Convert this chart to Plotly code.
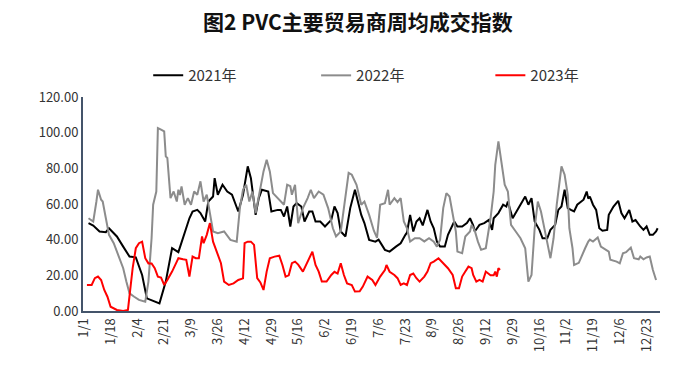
import plotly.graph_objects as go

# x positions are day-of-year indices (0 = 1/1, leap-year calendar, 366 categories)
tick_labels = ["1/1", "1/18", "2/4", "2/21", "3/9", "3/26", "4/12", "4/29", "5/16", "6/2", "6/19",
               "7/6", "7/23", "8/9", "8/26", "9/12", "9/29", "10/16", "11/2", "11/19", "12/6", "12/23"]
tick_days = [i * 17 for i in range(len(tick_labels))]

days_2021 = [3, 6, 10, 14, 16, 21, 25, 29, 33, 37, 40, 48, 52, 56, 60, 64, 67, 69, 72, 74, 77, 79, 82, 83,
             85, 88, 91, 94, 98, 101, 104, 106, 109, 111, 113, 117, 119, 123, 125, 127, 129, 131, 133, 135,
             138, 140, 143, 145, 147, 150, 153, 157, 159, 161, 163, 166, 169, 172, 176, 178, 181, 185, 187,
             191, 194, 198, 201, 204, 205, 207, 209, 211, 213, 215, 218, 220, 222, 224, 226, 229, 231, 235,
             237, 240, 243, 245, 247, 248, 251, 254, 257, 259, 260, 263, 266, 268, 269, 272, 276, 280, 282,
             284, 286, 289, 291, 294, 296, 299, 301, 303, 305, 307, 309, 311, 313, 317, 319, 320, 321, 323,
             325, 327, 329, 332, 333, 336, 339, 341, 343, 346, 348, 350, 353, 355, 357, 359, 361, 363, 364]
vals_2021 = [49.3, 47.9, 44.6, 44.2, 46.4, 41.8, 36.1, 30.5, 30.1, 20.2, 7.1, 4.3, 16.5, 35.2, 33.0, 44.6,
             52.0, 55.8, 56.7, 54.9, 50.2, 61.4, 64.2, 74.5, 65.2, 70.8, 67.0, 65.2, 55.8, 65.2, 81.1, 74.5,
             53.9, 63.3, 68.0, 67.0, 55.8, 56.7, 56.7, 53.0, 58.6, 47.4, 58.6, 60.5, 58.6, 50.2, 55.8, 55.8,
             50.2, 50.2, 47.4, 51.1, 58.6, 54.9, 44.6, 41.8, 57.7, 68.0, 53.9, 49.3, 39.9, 38.9, 40.0, 34.3,
             33.3, 36.1, 38.0, 42.7, 44.0, 53.9, 44.6, 50.2, 52.0, 48.0, 56.7, 50.2, 46.4, 38.9, 36.1, 36.1,
             42.7, 50.2, 47.4, 47.4, 49.3, 52.0, 48.0, 44.6, 48.3, 49.3, 51.1, 45.5, 52.0, 54.9, 59.6, 58.6,
             61.4, 52.0, 57.7, 64.2, 59.6, 63.3, 50.2, 45.5, 40.8, 40.8, 45.5, 48.3, 56.7, 58.6, 68.0, 57.7,
             56.7, 55.8, 59.6, 62.4, 67.0, 63.0, 64.2, 59.6, 56.7, 46.4, 45.0, 45.5, 53.9, 58.6, 61.8, 54.9,
             52.0, 56.7, 50.2, 51.0, 47.4, 45.5, 47.4, 42.7, 42.7, 44.6, 46.4]

days_2022 = [3, 6, 8, 9, 11, 12, 14, 16, 19, 21, 23, 25, 27, 29, 32, 35, 39, 41, 43, 44, 46, 47, 49, 51, 52,
             53, 55, 57, 59, 60, 61, 62, 64, 66, 68, 70, 72, 74, 76, 78, 80, 82, 85, 89, 93, 97, 99, 101, 103,
             105, 107, 109, 111, 114, 116, 118, 120, 122, 125, 127, 129, 131, 132, 134, 136, 139, 142, 144,
             146, 149, 152, 155, 158, 160, 163, 166, 168, 170, 173, 176, 178, 181, 184, 186, 188, 191, 193,
             194, 197, 199, 201, 203, 205, 207, 210, 213, 216, 219, 222, 224, 226, 228, 230, 232, 234, 236,
             237, 240, 242, 245, 246, 248, 250, 252, 255, 258, 260, 261, 263, 265, 267, 269, 271, 274, 277,
             280, 282, 284, 286, 288, 290, 293, 296, 298, 300, 303, 305, 307, 308, 310, 311, 314, 316, 318,
             320, 321, 323, 326, 328, 330, 333, 334, 338, 340, 342, 344, 347, 349, 352, 353, 355, 357, 359,
             361, 363]
vals_2022 = [52.0, 50.2, 61.4, 68.0, 62.4, 61.4, 52.0, 42.7, 38.0, 33.3, 29.6, 24.0, 16.5, 9.9, 8.0, 6.2,
             5.2, 16.5, 40.8, 59.6, 67.0, 102.6, 101.7, 100.7, 86.7, 85.8, 63.3, 67.0, 61.4, 68.0, 65.0, 69.9,
             59.6, 63.3, 59.6, 67.0, 65.2, 72.7, 61.4, 65.2, 54.9, 44.6, 43.6, 44.6, 39.9, 38.9, 57.7, 68.0,
             70.8, 61.4, 67.0, 54.9, 64.2, 78.3, 84.8, 78.3, 66.1, 64.2, 61.4, 59.6, 70.8, 70.0, 65.2, 70.8,
             49.3, 57.7, 63.3, 68.0, 63.3, 67.0, 65.2, 57.7, 46.4, 41.8, 44.6, 65.2, 77.4, 76.4, 70.8, 59.6,
             61.4, 53.9, 45.0, 41.0, 59.6, 60.5, 68.0, 59.6, 63.3, 61.0, 63.3, 50.2, 46.4, 38.9, 40.8, 40.8,
             39.0, 40.8, 38.9, 36.1, 40.0, 57.7, 66.1, 64.2, 53.9, 44.6, 33.3, 32.4, 41.8, 44.6, 48.3, 45.0,
             38.9, 34.3, 35.2, 52.0, 67.0, 82.0, 95.1, 82.0, 70.8, 67.0, 48.3, 44.6, 40.8, 35.2, 16.5, 20.2,
             46.4, 61.4, 55.8, 42.7, 29.6, 40.8, 59.6, 81.1, 76.4, 65.2, 46.4, 35.2, 25.8, 27.0, 31.5, 35.2,
             38.9, 40.0, 38.9, 41.2, 36.1, 35.0, 33.3, 28.7, 27.7, 26.7, 32.4, 33.0, 35.6, 29.6, 29.0, 30.5,
             29.0, 30.0, 30.5, 23.0, 17.4]

days_2023 = [2, 5, 7, 9, 11, 13, 15, 17, 21, 25, 28, 31, 33, 35, 37, 39, 41, 43, 45, 47, 49, 51, 53, 56, 59,
             60, 63, 65, 67, 69, 71, 73, 75, 76, 78, 80, 82, 85, 87, 89, 92, 95, 98, 101, 102, 104, 106, 108,
             110, 112, 114, 116, 118, 121, 124, 126, 128, 130, 132, 134, 136, 139, 141, 143, 145, 147, 149,
             151, 154, 157, 159, 161, 163, 165, 167, 170, 172, 175, 177, 180, 183, 185, 188, 191, 192, 194,
             197, 199, 201, 203, 205, 207, 209, 211, 213, 216, 218, 220, 222, 225, 227, 229, 231, 234, 236,
             238, 240, 242, 244, 246, 247, 249, 251, 253, 255, 258, 260, 261, 262, 263, 264]
vals_2023 = [14.6, 14.6, 18.4, 19.3, 17.4, 11.8, 8.0, 2.4, 0.6, 0.0, 0.6, 24.0, 35.2, 38.0, 38.9, 29.6, 26.7,
             26.7, 24.0, 19.3, 18.7, 14.6, 17.4, 22.1, 27.7, 29.6, 29.0, 28.7, 19.3, 30.5, 29.6, 29.6, 41.8,
             38.0, 42.7, 49.3, 38.9, 31.5, 26.8, 16.5, 14.6, 15.5, 17.4, 18.3, 38.0, 38.9, 38.9, 37.1, 18.4,
             16.0, 11.8, 22.1, 29.6, 30.5, 31.0, 25.8, 19.3, 20.0, 26.8, 27.7, 26.0, 22.1, 25.8, 28.7, 33.3,
             25.8, 22.1, 16.5, 16.5, 20.2, 22.0, 21.0, 26.8, 20.2, 15.5, 14.6, 10.9, 11.0, 13.7, 19.3, 17.4,
             14.6, 19.3, 23.0, 25.8, 22.0, 20.2, 18.4, 14.6, 15.5, 14.6, 20.2, 21.0, 18.4, 16.5, 19.3, 22.1,
             26.8, 27.7, 29.6, 27.7, 25.8, 24.0, 20.2, 12.7, 12.7, 19.3, 22.1, 24.9, 24.0, 20.2, 16.5, 17.4,
             16.5, 22.1, 20.0, 20.0, 22.1, 19.3, 24.0, 23.0]

y_ticks = [0, 20, 40, 60, 80, 100, 120]

FONT = "Noto Sans CJK SC"
AXIS_COLOR = "#44546A"

series = [("2021年", days_2021, vals_2021, "#000000", "legend", 0.113),
          ("2022年", days_2022, vals_2022, "#8C8C8C", "legend2", 0.404),
          ("2023年", days_2023, vals_2023, "#FF0000", "legend3", 0.706)]

fig = go.Figure()
legend_layout = {}
for name, d, v, c, lg, lx in series:
    fig.add_trace(go.Scatter(x=d, y=v, mode="lines", name=name, legend=lg,
                             line=dict(color=c, width=2)))
    legend_layout[lg] = dict(orientation="h", x=lx, xanchor="left", y=1.10, yanchor="middle",
                             font=dict(family=FONT, size=15, color="#333333"),
                             bgcolor="rgba(0,0,0,0)")

fig.update_layout(
    width=695, height=375,
    margin=dict(l=83, r=35, t=97, b=64, autoexpand=False),
    paper_bgcolor="white", plot_bgcolor="white",
    font=dict(family=FONT, size=13, color="#333333"),
    title=dict(text="<b>图2 PVC主要贸易商周均成交指数</b>", x=0.515, xref="container",
               xanchor="center", y=0.94, yref="container", yanchor="middle",
               font=dict(family=FONT, size=21, color="#111111")),
    showlegend=True,
    **legend_layout,
)
fig.update_xaxes(range=[-0.5, 365.5], tickmode="array", tickvals=tick_days, ticktext=tick_labels,
                 tickangle=-90, showgrid=False, zeroline=False, showline=True,
                 linecolor=AXIS_COLOR, linewidth=2, ticks="", tickfont=dict(size=13, color="#333333"))
fig.update_yaxes(range=[0, 120], tickmode="array", tickvals=y_ticks,
                 ticktext=[f"{t:.2f}" for t in y_ticks], showgrid=False, zeroline=False,
                 showline=True, linecolor=AXIS_COLOR, linewidth=2, ticks="",
                 tickfont=dict(size=13, color="#333333"))

fig.write_html("out.html", config={"displayModeBar": False},
               post_script="document.body.style.margin='0';document.body.style.padding='0';")
